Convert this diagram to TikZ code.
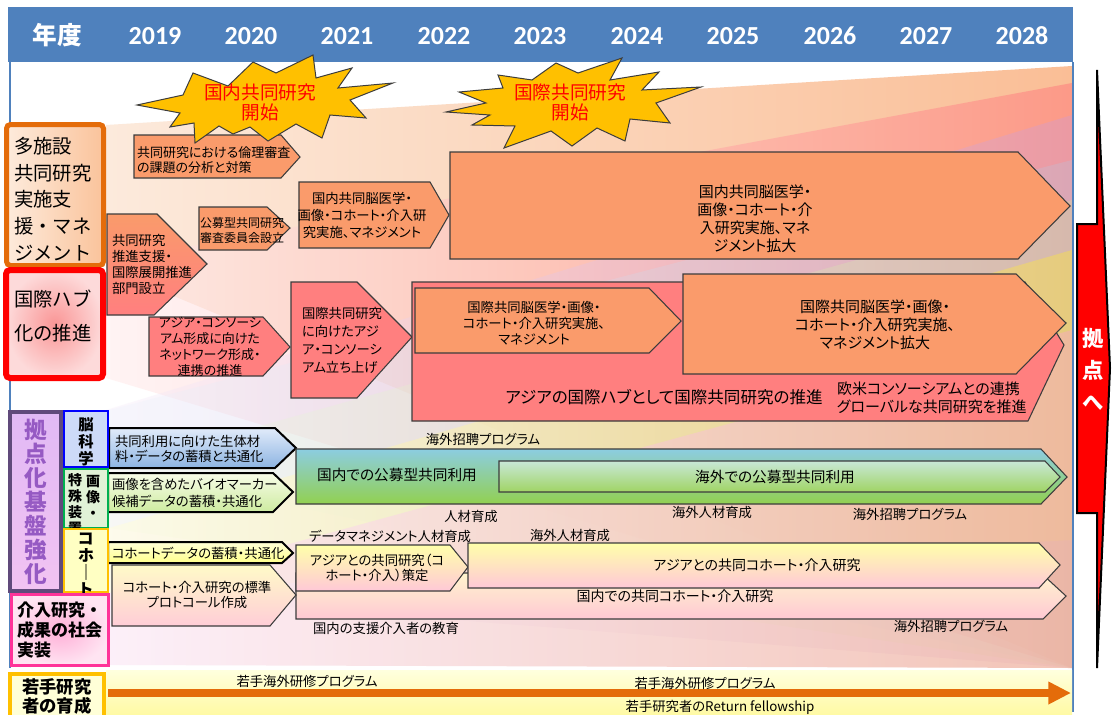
\documentclass[tikz,border=0pt]{standalone}
\usepackage{fontspec}
\setmainfont{Noto Sans CJK JP}[RawFeature=+palt]
\newfontfamily\jfw{Noto Sans CJK JP}
\newfontfamily\yrfont{Carlito}
\usetikzlibrary{arrows.meta}
\newcommand\fsz[2]{\fontsize{#1}{#2}\selectfont}
\definecolor{hdr}{RGB}{79,129,189}
\definecolor{edgec}{RGB}{60,60,60}
\definecolor{salm}{RGB}{250,155,107}
\definecolor{pinkr}{RGB}{255,127,127}
\definecolor{starc}{RGB}{255,192,0}
\definecolor{oline}{RGB}{228,108,10}
\definecolor{purp}{RGB}{96,74,123}
\definecolor{purtx}{RGB}{150,90,195}
\definecolor{grn}{RGB}{0,176,80}
\definecolor{gold}{RGB}{255,192,0}
\definecolor{mag}{RGB}{255,51,153}
\definecolor{arrc}{RGB}{228,108,10}
\definecolor{f1a}{RGB}{252,234,220}\definecolor{f1b}{RGB}{250,190,150}
\definecolor{f2a}{RGB}{255,235,235}\definecolor{f2b}{RGB}{255,125,125}
\definecolor{f3a}{RGB}{245,235,250}\definecolor{f3b}{RGB}{205,155,215}
\definecolor{f4a}{RGB}{235,242,252}\definecolor{f4b}{RGB}{175,205,235}
\definecolor{f5a}{RGB}{238,248,228}\definecolor{f5b}{RGB}{205,232,155}
\definecolor{f6a}{RGB}{255,253,225}\definecolor{f6b}{RGB}{240,215,95}
\definecolor{f7a}{RGB}{252,236,248}\definecolor{f7b}{RGB}{240,182,165}
\definecolor{c1t}{RGB}{225,235,250}\definecolor{c1b}{RGB}{141,180,226}
\definecolor{c2t}{RGB}{248,252,232}\definecolor{c2b}{RGB}{205,235,160}
\definecolor{c3t}{RGB}{140,205,225}\definecolor{c3m}{RGB}{215,232,200}\definecolor{c3b}{RGB}{146,208,80}
\definecolor{c4t}{RGB}{200,232,215}\definecolor{c4m}{RGB}{228,242,205}\definecolor{c4b}{RGB}{160,212,100}
\definecolor{d1t}{RGB}{255,255,215}\definecolor{d1b}{RGB}{255,255,140}
\definecolor{dyt}{RGB}{255,255,170}\definecolor{dyb}{RGB}{255,200,215}
\definecolor{d2t}{RGB}{255,250,200}\definecolor{d2b}{RGB}{255,205,215}
\definecolor{d5t}{RGB}{255,245,205}\definecolor{d5b}{RGB}{255,200,212}
\definecolor{k1a}{RGB}{253,235,220}\definecolor{k1b}{RGB}{250,195,155}
\definecolor{k2i}{RGB}{250,150,150}\definecolor{k2o}{RGB}{253,218,218}
\definecolor{k3t}{RGB}{225,185,245}\definecolor{k3b}{RGB}{242,195,242}
\definecolor{k4}{RGB}{205,218,248}
\definecolor{k5}{RGB}{225,242,215}
\definecolor{k6}{RGB}{255,255,195}
\definecolor{k7i}{RGB}{255,175,215}\definecolor{k7o}{RGB}{255,228,242}
\definecolor{k8}{RGB}{255,255,215}
\definecolor{yb1}{RGB}{255,255,222}\definecolor{yb2}{RGB}{255,250,165}
\begin{document}
\begin{tikzpicture}[x=0.75pt,y=-0.75pt]
\tikzset{
 every node/.style={inner sep=0pt,outer sep=0pt},
 ob/.style={draw=edgec, line width=0.8pt},
 tb/.style={draw=black, line width=1.5pt},
 tx/.style={text=black, align=center},
 lab/.style={text=black, font=\fsz{10}{12}},
 cat/.style={text=black, align=left, anchor=west},
 yrs/.style={text=white, font=\yrfont\bfseries\fsz{19.5}{22}},
 starsty/.style={fill=starc, draw=edgec, line width=0.75pt},
 sttx/.style={text=red, align=center, font=\fsz{14}{15}},
}
\useasboundingbox (0,0) rectangle (1112,714);
\fill[white] (0,0) rectangle (1112,714);
% background fans
\begin{scope}
\clip (11,62) rectangle (1072,668);
\shade[left color=f1a, right color=f1b] (106,125) -- (1072,66) -- (1072,668) -- (106,268) -- cycle;
\shade[left color=f2a, right color=f2b, opacity=0.55] (106,262) -- (1072,83) -- (1072,668) -- (106,378) -- cycle;
\shade[left color=f3a, right color=f3b, opacity=0.35] (106,410) -- (1072,115) -- (1072,668) -- (106,593) -- cycle;
\shade[left color=f4a, right color=f4b, opacity=0.25] (109,410) -- (1072,160) -- (1072,668) -- (109,468) -- cycle;
\shade[left color=f5a, right color=f5b, opacity=0.3] (109,468) -- (1072,200) -- (1072,668) -- (109,528) -- cycle;
\shade[left color=f6a, right color=f6b, opacity=0.6] (109,528) -- (1072,250) -- (1072,540) -- (109,593) -- cycle;
\shade[left color=f7a, right color=f7b, opacity=0.8] (110,593) -- (1072,330) -- (1072,668) -- (110,665) -- cycle;
\end{scope}
% header and frame
\fill[hdr] (8,7) rectangle (1073,62);
\draw[hdr, line width=1pt] (10,62) -- (10,668);
\draw[hdr, line width=1.6pt] (1073,62) -- (1073,712);
\node[text=white, font=\bfseries\fsz{18.5}{20}] (yh) at (57,35) {年度};
\foreach \yx/\yt in {155/2019,251/2020,347/2021,444/2022,540/2023,637/2024,733/2025,830/2026,926/2027,1022/2028}
  \node[yrs] (y\yt) at (\yx,36) {\yt};
% young researcher band
\shade[top color=yb1, bottom color=yb2] (106,670) rectangle (1072,714);
\coordinate (ra) at (108,693);
\coordinate (rb) at (1071,693);
\draw[arrc, line width=6pt, -{Triangle[length=17pt,width=16pt]}] (ra) -- (rb);
\node[lab] (e1) at (307,681) {若手海外研修プログラム};
\node[lab] (e2) at (705,683) {若手海外研修プログラム};
\node[lab] (e3) at (720,707) {若手研究者のReturn fellowship};
% row A
\path[ob, fill=salm] (134,135) -- (281,135) -- (300,157) -- (281,178) -- (134,178) -- cycle;
\node[tx, align=left, anchor=west, font=\fsz{9.75}{11.25}] (a1) at (137,160) {共同研究における倫理審査\\の課題の分析と対策};
\path[ob, top color=salm, bottom color=pinkr] (107,214) -- (157,214) -- (207,264) -- (154,315) -- (107,315) -- cycle;
\node[tx, align=left, anchor=west, font=\fsz{10}{12}] (a2) at (112,264) {共同研究\\推進支援・\\国際展開推進\\部門設立};
\path[ob, fill=salm] (199,207) -- (267,207) -- (290,228) -- (267,250) -- (199,250) -- cycle;
\node[tx, align=left, anchor=west, font=\fsz{9}{11.25}] (a3) at (200,230) {公募型共同研究\\審査委員会設立};
\path[ob, fill=salm] (299,182) -- (430,182) -- (449,215) -- (430,248) -- (299,248) -- cycle;
\node[tx, font=\fsz{10}{12.75}] (a4) at (362,215) {国内共同脳医学・\\画像・コホート・介入研\\究実施、マネジメント};
\path[ob, fill=salm] (450,152) -- (1018,152) -- (1070,206) -- (1018,259) -- (450,259) -- cycle;
\node[tx, font=\fsz{11.25}{13.5}] (a5) at (755,219) {国内共同脳医学・\\画像・コホート・介\\入研究実施、マネ\\ジメント拡大};
% row B
\path[ob, fill=pinkr] (149,317) -- (263,317) -- (290,347) -- (263,376) -- (149,376) -- cycle;
\node[tx, font=\fsz{9.75}{12}] (b1) at (210,347) {アジア・コンソーシ\\アム形成に向けた\\ネットワーク形成・\\連携の推進};
\path[ob, fill=pinkr] (291,282) -- (357,282) -- (412,337) -- (357,398) -- (291,398) -- cycle;
\node[tx, align=left, anchor=west, font=\fsz{10}{13.5}] (b2) at (302,340) {国際共同研究\\に向けたアジ\\ア・コンソーシ\\アム立ち上げ};
\path[ob, fill=pinkr] (412,282) -- (1025,282) -- (1064,345) -- (1028,421) -- (412,421) -- cycle;
\node[tx, font=\fsz{12.4}{14}] (b3a) at (664,397) {アジアの国際ハブとして国際共同研究の推進};
\node[tx, align=left, anchor=west, font=\fsz{11.25}{13.5}] (b3b) at (837,398) {欧米コンソーシアムとの連携\\グローバルな共同研究を推進};
\path[ob, fill=salm] (415,288) -- (649,288) -- (681,321) -- (649,353) -- (415,353) -- cycle;
\node[tx, font=\fsz{10}{12}] (b4) at (534,323) {国際共同脳医学・画像・\\コホート・介入研究実施、\\マネジメント};
\path[ob, fill=salm] (683,274) -- (1016,274) -- (1066,323) -- (1016,374) -- (683,374) -- cycle;
\node[tx, font=\fsz{11.25}{13.5}] (b5) at (875,325) {国際共同脳医学・画像・\\コホート・介入研究実施、\\マネジメント拡大};
% row C
\path[tb, top color=c1t, bottom color=c1b] (109,428) -- (275,428) -- (296,448) -- (275,468) -- (109,468) -- cycle;
\node[tx, align=left, anchor=west, font=\fsz{10}{11.25}] (c1) at (115,449) {共同利用に向けた生体材\\料・データの蓄積と共通化};
\path[tb, top color=c2t, bottom color=c2b] (108,473) -- (273,473) -- (293,492) -- (273,512) -- (108,512) -- cycle;
\node[tx, align=left, anchor=west, font=\fsz{10}{12.75}] (c2) at (112,493) {画像を含めたバイオマーカー\\候補データの蓄積・共通化};
\path[ob, top color=c3t, middle color=c3m, bottom color=c3b] (296,449) -- (1041,449) -- (1067,477) -- (1041,504) -- (296,504) -- cycle;
\node[tx, font=\fsz{11}{13}] (c3) at (397,475) {国内での公募型共同利用};
\path[ob, top color=c4t, middle color=c4m, bottom color=c4b] (499,461) -- (1045,461) -- (1060,477) -- (1045,492) -- (499,492) -- cycle;
\node[tx, font=\fsz{11}{13}] (c4) at (775,477) {海外での公募型共同利用};
\node[lab] (l1) at (483,439) {海外招聘プログラム};
\node[lab] (l2) at (471,516) {人材育成};
\node[lab] (l3) at (712,512) {海外人材育成};
\node[lab] (l4) at (910,514) {海外招聘プログラム};
\node[lab] (l5) at (390,536) {データマネジメント人材育成};
\node[lab] (l6) at (570,535) {海外人材育成};
% row D
\path[ob, top color=d5t, bottom color=d5b] (296,573) -- (1041,573) -- (1066,596) -- (1043,619) -- (296,619) -- cycle;
\node[tx, font=\fsz{10.5}{12}] (d5) at (675,596) {国内での共同コホート・介入研究};
\path[ob, top color=dyt, bottom color=dyb] (296,545) -- (450,545) -- (468,567) -- (450,591) -- (296,591) -- cycle;
\node[tx, font=\fsz{10}{11.25}] (d3) at (377,568) {アジアとの共同研究（コ\\ホート・介入）策定};
\path[ob, top color=dyt, bottom color=dyb] (468,543) -- (1039,543) -- (1060,565) -- (1039,588) -- (468,588) -- cycle;
\node[tx, font=\fsz{10.5}{12}] (d4) at (757,565) {アジアとの共同コホート・介入研究};
\path[tb, top color=d1t, bottom color=d1b] (108,542) -- (282,542) -- (293,553) -- (282,563) -- (108,563) -- cycle;
\node[tx, anchor=west, font=\fsz{10}{12}] (d1) at (112,553) {コホートデータの蓄積・共通化};
\path[ob, top color=d2t, bottom color=d2b] (112,565) -- (270,565) -- (296,595) -- (270,626) -- (112,626) -- cycle;
\node[tx, font=\fsz{10}{11.25}] (d2) at (197,595) {コホート・介入研究の標準\\プロトコール作成};
\node[lab] (l7) at (386,628) {国内の支援介入者の教育};
\node[lab] (l8) at (951,626) {海外招聘プログラム};
% category column
\path[draw=oline, line width=3.75pt, rounded corners=3pt, left color=k1a, right color=k1b] (6.5,124.5) rectangle (103.5,265.5);
\node[cat, font=\jfw\fsz{14.5}{20}] (k1) at (14,199) {多施設\\共同研究\\実施支\\援・マネ\\ジメント};
\path[draw=red, line width=4.5pt, rounded corners=3pt, inner color=k2i, outer color=k2o] (6,270) rectangle (103,378);
\node[cat, font=\jfw\fsz{14.5}{25}] (k2) at (14,316) {国際ハブ\\化の推進};
\path[draw=purp, line width=3pt, top color=k3t, bottom color=k3b] (10,412) rectangle (61,591);
\node[font=\bfseries\fsz{17}{18}, text=purtx, align=center] (k3) at (36,502) {拠\\点\\化\\基\\盤\\強\\化};
\path[draw=blue, line width=1.5pt, fill=k4] (64,411) rectangle (108,467);
\node[font=\bfseries\fsz{11.5}{12.75}, align=center] (k4) at (86,442) {脳\\科\\学};
\path[draw=grn, line width=1.5pt, fill=k5] (64,469) rectangle (108,528);
\node[font=\bfseries\fsz{10.5}{12}, align=center] (k5a) at (93,497) {画\\像\\・};
\node[font=\bfseries\fsz{10.5}{12}, align=center] (k5b) at (75,504) {特\\殊\\装\\置};
\path[draw=gold, line width=1.5pt, fill=k6] (64,529) rectangle (108,592);
\node[font=\bfseries\fsz{12}{12.75}, align=center] (k6) at (86,565) {コ\\ホ\\｜\\ト};
\path[draw=mag, line width=2.25pt, inner color=k7i, outer color=k7o] (11.5,594.5) rectangle (108.5,665.5);
\node[cat, font=\jfw\bfseries\fsz{12.75}{15}] (k7) at (17,630) {介入研究・\\成果の社会\\実装};
\path[draw=gold, line width=2.6pt, fill=k8] (10,674) rectangle (104,717);
\node[cat, font=\jfw\bfseries\fsz{13}{14.25}] (k8) at (22,696) {若手研究\\者の育成};
% big red arrow
\path[fill=red, draw=black, line width=1.5pt] (1077,224) -- (1097,224) -- (1097,70) -- (1110,368) -- (1097,668) -- (1097,513) -- (1077,513) -- cycle;
\node[text=white, font=\bfseries\fsz{16}{24}, align=center] (kt) at (1093,369) {拠\\点\\へ};
% starbursts
\path[starsty] (137,105) -- (183,95) -- (193,73) -- (228,86) -- (253,62) -- (276,73) -- (313,55) -- (316,78) -- (352,68) -- (338,88) -- (393,83) -- (350,100) -- (366,118) -- (330,115) -- (322,138) -- (296,124) -- (268,141) -- (250,127) -- (233,134) -- (219,126) -- (195,143) -- (194,123) -- (170,127) -- (180,113) -- cycle;
\node[sttx] (s1) at (260,102) {国内共同研究\\開始};
\path[starsty] (446,112) -- (486,103) -- (459,92) -- (503,88) -- (498,75) -- (532,80) -- (556,63) -- (578,73) -- (622,58) -- (610,80) -- (659,72) -- (642,90) -- (701,87) -- (656,103) -- (670,123) -- (630,119) -- (625,141) -- (597,128) -- (572,146) -- (551,131) -- (504,148) -- (515,126) -- (472,125) -- (490,115) -- cycle;
\node[sttx] (s2) at (570,102) {国際共同研究\\開始};
\end{tikzpicture}
\end{document}
